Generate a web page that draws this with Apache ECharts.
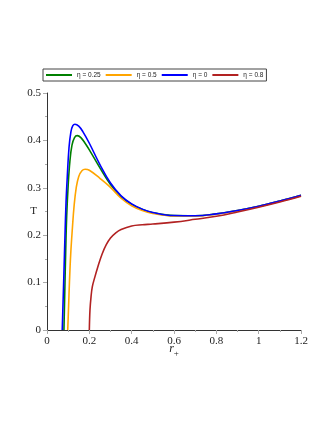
<!DOCTYPE html>
<html>
<head>
<meta charset="utf-8">
<script src="https://cdn.jsdelivr.net/npm/echarts@6/dist/echarts.min.js"></script>
<style>
  html, body { margin: 0; padding: 0; background: #fff; }
  #chart { width: 331px; height: 429px; }
</style>
</head>
<body>
<div id="chart"></div>
<script>
// 读图得到的数据：r+ 与 T
const xTicks = [0, 0.2, 0.4, 0.6, 0.8, 1, 1.2]
const yTicks = [0, 0.1, 0.2, 0.3, 0.4, 0.5]

const legendNames = ['η = 0.25', 'η = 0.5', 'η = 0', 'η = 0.8']

const rEta0 = [0.072, 0.076, 0.08, 0.085, 0.09, 0.096, 0.104, 0.113, 0.122, 0.132, 0.15, 0.17, 0.2, 0.25, 0.3, 0.35, 0.4, 0.45, 0.5, 0.6, 0.7, 0.8, 0.9, 1.0, 1.1, 1.2]
const tEta0 = [0, 0.06, 0.12, 0.2, 0.27, 0.325, 0.385, 0.418, 0.431, 0.434, 0.43, 0.418, 0.394, 0.349, 0.31, 0.283, 0.266, 0.255, 0.248, 0.2415, 0.241, 0.245, 0.252, 0.261, 0.272, 0.284]

const rEta025 = [0.08, 0.084, 0.088, 0.093, 0.1, 0.108, 0.118, 0.13, 0.143, 0.16, 0.18, 0.2, 0.25, 0.3, 0.35, 0.4, 0.45, 0.5, 0.6, 0.7, 0.8, 0.9, 1.0, 1.1, 1.2]
const tEta025 = [0, 0.08, 0.16, 0.24, 0.305, 0.355, 0.39, 0.406, 0.41, 0.406, 0.394, 0.38, 0.342, 0.307, 0.282, 0.265, 0.2545, 0.2475, 0.2413, 0.241, 0.245, 0.252, 0.261, 0.272, 0.284]

const rEta05 = [0.098, 0.102, 0.106, 0.112, 0.12, 0.128, 0.138, 0.15, 0.165, 0.18, 0.2, 0.25, 0.3, 0.35, 0.4, 0.45, 0.5, 0.6, 0.7, 0.8, 0.9, 1.0, 1.1, 1.2]
const tEta05 = [0, 0.05, 0.1, 0.16, 0.215, 0.262, 0.3, 0.324, 0.336, 0.339, 0.337, 0.32, 0.301, 0.278, 0.262, 0.252, 0.246, 0.2405, 0.2405, 0.2445, 0.2515, 0.2605, 0.2715, 0.2835]

const rEta08 = [0.2, 0.203, 0.208, 0.214, 0.225, 0.24, 0.26, 0.28, 0.3, 0.325, 0.35, 0.4, 0.45, 0.5, 0.6, 0.7, 0.8, 0.9, 1.0, 1.1, 1.2]
const tEta08 = [0, 0.042, 0.07, 0.091, 0.11, 0.133, 0.16, 0.18, 0.194, 0.205, 0.212, 0.2195, 0.222, 0.2235, 0.2275, 0.2335, 0.24, 0.249, 0.259, 0.27, 0.282]

const colors = ['#008000', '#FFA500', '#0000FF', '#B22222']

const pairs = (rs, ts) => rs.map((r, i) => [r, ts[i]])

const chart = echarts.init(document.getElementById('chart'))

const mkLine = (name, data, color) => ({
  name,
  type: 'line',
  data,
  smooth: 0.4,
  showSymbol: false,
  symbol: 'none',
  clip: true,
  lineStyle: { color, width: 1.6 },
  itemStyle: { color }
})

const labelFmt = ticks => v => ticks.find(t => Math.abs(t - v) < 1e-9) !== undefined ? String(+v.toFixed(1)) : ''

chart.setOption({
  animation: false,
  legend: {
    data: legendNames,
    left: 43,
    top: 69,
    icon: 'rect',
    itemWidth: 26,
    itemHeight: 2,
    itemGap: 5,
    padding: [1, 3, 1, 3],
    borderColor: '#444',
    borderWidth: 1,
    textStyle: { fontFamily: 'Liberation Sans', fontSize: 6.5, color: '#222', lineHeight: 10 }
  },
  grid: { left: 47, right: 30, top: 93, bottom: 99 },
  xAxis: {
    type: 'value',
    min: 0,
    max: 1.2,
    interval: 0.2,
    name: '{r|r}{s|+}',
    nameLocation: 'middle',
    nameGap: 10,
    nameMoveOverlap: false,
    nameTextStyle: {
      rich: {
        r: { fontFamily: 'Liberation Serif', fontStyle: 'italic', fontSize: 12, color: '#222' },
        s: { fontFamily: 'Liberation Serif', fontSize: 9, color: '#222', padding: [9, 0, 0, 0] }
      }
    },
    axisLine: { lineStyle: { color: '#333', width: 1 } },
    axisTick: { show: true, length: 4, lineStyle: { color: '#aaa' } },
    minorTick: { show: true, splitNumber: 2, length: 2, lineStyle: { color: '#aaa' } },
    splitLine: { show: false },
    axisLabel: { fontFamily: 'Liberation Serif', fontSize: 11, color: '#222', margin: 6, formatter: labelFmt(xTicks) }
  },
  yAxis: {
    type: 'value',
    min: 0,
    max: 0.5,
    interval: 0.1,
    name: 'T',
    nameLocation: 'middle',
    nameRotate: 0,
    nameGap: 10,
    nameMoveOverlap: false,
    nameTextStyle: { fontFamily: 'Liberation Serif', fontSize: 11, color: '#222' },
    axisLine: { show: true, lineStyle: { color: '#333', width: 1 } },
    axisTick: { show: true, length: 4, lineStyle: { color: '#aaa' } },
    minorTick: { show: true, splitNumber: 2, length: 2, lineStyle: { color: '#aaa' } },
    splitLine: { show: false },
    axisLabel: { fontFamily: 'Liberation Serif', fontSize: 11, color: '#222', margin: 6, formatter: labelFmt(yTicks) }
  },
  series: [
    mkLine(legendNames[0], pairs(rEta025, tEta025), colors[0]),
    mkLine(legendNames[1], pairs(rEta05, tEta05), colors[1]),
    mkLine(legendNames[2], pairs(rEta0, tEta0), colors[2]),
    mkLine(legendNames[3], pairs(rEta08, tEta08), colors[3])
  ]
})
</script>
</body>
</html>
